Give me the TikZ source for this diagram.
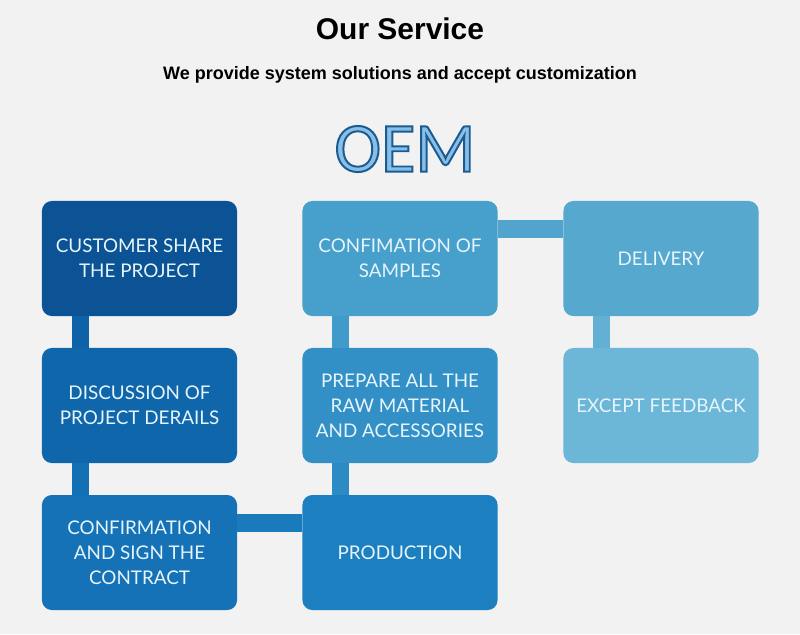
\documentclass[tikz,border=0pt]{standalone}
\usepackage{fontspec}
\setmainfont{Liberation Sans}
\newfontfamily\boxfont{Lato}
\newfontfamily\oemfont{Carlito}
\usetikzlibrary{positioning}

\definecolor{bgcol}{HTML}{F2F2F2}
\definecolor{stepA}{HTML}{0B5394}
\definecolor{stepB}{HTML}{0F66AB}
\definecolor{stepC}{HTML}{1572B6}
\definecolor{stepD}{HTML}{1C80C0}
\definecolor{stepE}{HTML}{3390C6}
\definecolor{stepF}{HTML}{479FCC}
\definecolor{stepG}{HTML}{56A8CF}
\definecolor{stepH}{HTML}{6CB6D8}
\definecolor{boxtext}{HTML}{E6F5FB}
\definecolor{oemfill}{HTML}{86C0EA}

% outlined text (stroke colour 1D5A8E)
\newcommand{\outlined}[1]{\special{pdf:literal direct 2 Tr 1.4 w 0.114 0.353 0.557 RG}#1\special{pdf:literal direct 0 Tr}}

\begin{document}
\begin{tikzpicture}[
    x=0.025cm, y=-0.025cm,
    stepbox/.style={rectangle, rounded corners=7pt, minimum width=4.875cm, minimum height=2.875cm,
        inner sep=0pt, align=center, text=boxtext,
        font=\boxfont\fontsize{13.4}{17.8}\selectfont},
    vbar/.style={line width=0.425cm},
    hbar/.style={line width=0.45cm}
]
    % background
    \fill[bgcol] (0,0) rectangle (800,634);

    % Titles
    \node[font=\bfseries\fontsize{21.3}{25}\selectfont] (title) at (400,29) {Our Service};
    \node[font=\bfseries\fontsize{12.8}{15}\selectfont] (subtitle) at (400,75) {We provide system solutions and accept customization};
    \node[font=\oemfont\fontsize{50}{60}\selectfont, text=oemfill] (oem) at (405,149) {\outlined{OEM}};

    % First column
    \node[stepbox, fill=stepA] (share) at (139.5,258.5) {CUSTOMER SHARE\\THE PROJECT};
    \node[stepbox, fill=stepB] (details) at (139.5,405.5) {DISCUSSION OF\\PROJECT DERAILS};
    \node[stepbox, fill=stepC] (contract) at (139.5,552.5) {CONFIRMATION\\AND SIGN THE\\CONTRACT};

    % Second column
    \node[stepbox, fill=stepD] (production) at (400,552.5) {PRODUCTION};
    \node[stepbox, fill=stepE] (material) at (400,405.5) {PREPARE ALL THE\\RAW MATERIAL\\AND ACCESSORIES};
    \node[stepbox, fill=stepF] (samples) at (400,258.5) {CONFIMATION OF\\SAMPLES};

    % Third column
    \node[stepbox, fill=stepG] (delivery) at (661,258.5) {DELIVERY};
    \node[stepbox, fill=stepH] (feedback) at (661,405.5) {EXCEPT FEEDBACK};

    % Connections
    \draw[vbar, stepB!85!stepA] ([xshift=0.96cm]share.south west) -- ([xshift=0.96cm]details.north west);
    \draw[vbar, stepC!85!stepB] ([xshift=0.96cm]details.south west) -- ([xshift=0.96cm]contract.north west);
    \draw[hbar, stepD!60!stepC] ([yshift=-0.7cm]contract.north east) -- ([yshift=-0.7cm]production.north west);
    \draw[vbar, stepE!70!stepD] ([xshift=0.96cm]production.north west) -- ([xshift=0.96cm]material.south west);
    \draw[vbar, stepF!70!stepE] ([xshift=0.96cm]material.north west) -- ([xshift=0.96cm]samples.south west);
    \draw[hbar, stepG!60!stepF] ([yshift=-0.7cm]samples.north east) -- ([yshift=-0.7cm]delivery.north west);
    \draw[vbar, stepH!60!stepG] ([xshift=0.96cm]delivery.south west) -- ([xshift=0.96cm]feedback.north west);
\end{tikzpicture}
\end{document}
